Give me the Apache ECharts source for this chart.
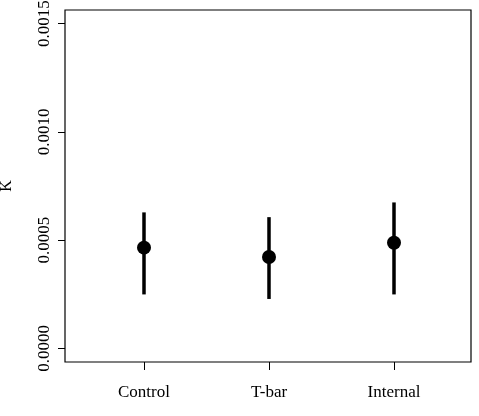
<!DOCTYPE html>
<html><head><meta charset="utf-8">
<script src="https://cdn.jsdelivr.net/npm/echarts@6/dist/echarts.min.js"></script>
<style>html,body{margin:0;padding:0;background:#fff}#c{width:479px;height:416px}</style>
</head><body><div id="c"></div>
<script>
const categories = ['Control', 'T-bar', 'Internal'];
const means = [0.000465, 0.000422, 0.000488];
const lowers = [0.000249, 0.000228, 0.000249];
const uppers = [0.000628, 0.000606, 0.000674];
const yTicks = [0, 0.0005, 0.0010, 0.0015];
const yTickLabels = ['0.0000', '0.0005', '0.0010', '0.0015'];

const font = 'Liberation Serif';
const chart = echarts.init(document.getElementById('c'));
chart.setOption({
  animation: false,
  grid: {left: 65, right: 8, top: 10, bottom: 54, show: true, borderColor: '#000', borderWidth: 1.2,
    outerBoundsMode: 'none', containLabel: false},
  xAxis: {
    type: 'value', min: 0.368, max: 3.616,
    axisLine: {show: false, onZero: false}, splitLine: {show: false},
    axisTick: {show: true, customValues: [1, 2, 3], length: 8, lineStyle: {color: '#000'}},
    axisLabel: {customValues: [1, 2, 3], formatter: v => categories[Math.round(v) - 1] || '',
      color: '#000', fontFamily: font, fontSize: 17, margin: 22}
  },
  yAxis: {
    type: 'value', min: -0.0000632, max: 0.001563,
    name: 'K', nameLocation: 'middle', nameGap: 50, nameRotate: 90,
    nameTextStyle: {color: '#000', fontFamily: font, fontSize: 16},
    axisLine: {show: false, onZero: false}, splitLine: {show: false},
    axisTick: {show: true, customValues: yTicks, length: 7, lineStyle: {color: '#000'}},
    axisLabel: {customValues: yTicks, formatter: v => yTickLabels[yTicks.findIndex(t => Math.abs(t - v) < 1e-9)] || '',
      rotate: 90, color: '#000', fontFamily: font, fontSize: 17, margin: 12}
  },
  series: [
    {
      type: 'custom',
      data: categories.map((c, i) => [i + 1, lowers[i], uppers[i]]),
      renderItem: (params, api) => {
        const a = api.coord([api.value(0), api.value(1)]);
        const b = api.coord([api.value(0), api.value(2)]);
        return {type: 'line', shape: {x1: a[0], y1: a[1], x2: b[0], y2: b[1]},
          style: {stroke: '#000', lineWidth: 3.5}};
      }
    },
    {
      type: 'scatter', symbol: 'circle', symbolSize: 14,
      itemStyle: {color: '#000', opacity: 1},
      data: categories.map((c, i) => [i + 1, means[i]])
    }
  ]
});
</script></body></html>
